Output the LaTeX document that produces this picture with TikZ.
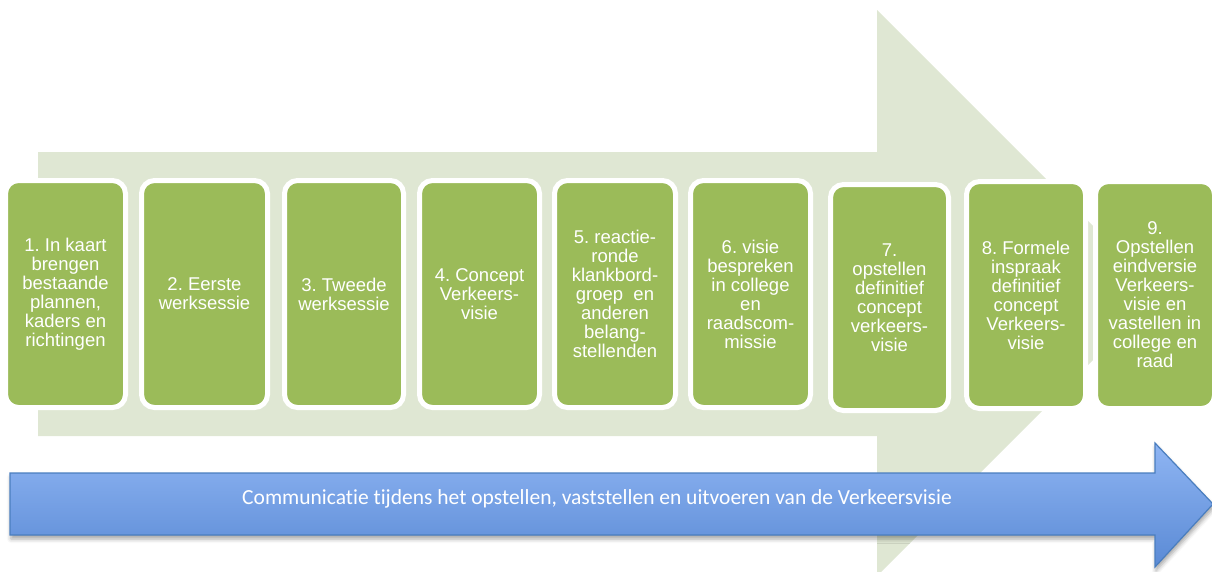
\documentclass[tikz,border=0pt]{standalone}
\usepackage{fontspec}
\setmainfont{Liberation Sans}
\newfontfamily\calib[Ligatures=NoCommon]{Carlito}
\usetikzlibrary{shadows.blur}
\definecolor{bgarrow}{HTML}{DFE7D3}
\definecolor{stepgreen}{HTML}{9BBB59}
\definecolor{bluetop}{HTML}{8FB5F3}
\definecolor{bluebot}{HTML}{5A8AD5}
\definecolor{blueedge}{HTML}{4A7EBF}
\frenchspacing
\begin{document}
\begin{tikzpicture}[x=1pt,y=-1pt,
  stepbox/.style={draw=white, line width=5pt, fill=stepgreen, rounded corners=13pt,
    inner sep=0pt, align=center, text=white,
    font=\frenchspacing\fontsize{18.5}{19}\selectfont, minimum height=227pt},
  commlabel/.style={text=white, font=\calib\fontsize{21.5}{23}\selectfont, inner sep=0pt}]
\useasboundingbox (0,0) rectangle (1212,571);

% large pale arrow behind the steps
\fill[bgarrow] (38,152) -- (877,152) -- (877,10) -- (1160,293) -- (877,576)
  -- (877,436) -- (38,436) -- cycle;

% the nine steps
\node[stepbox, minimum width=120pt] (b1) at (65.5,294)
  {1. In kaart\\brengen\\bestaande\\plannen,\\kaders en\\richtingen};
\node[stepbox, minimum width=126pt] (b2) at (204.5,294) {2. Eerste\\werksessie};
\node[stepbox, minimum width=119pt] (b3) at (344,294) {3. Tweede\\werksessie};
\node[stepbox, minimum width=120pt] (b4) at (479.5,294) {4. Concept\\Verkeers-\\visie};
\node[stepbox, minimum width=121pt] (b5) at (615,294)
  {5. reactie-\\ronde\\klankbord-\\groep~ en\\anderen\\belang-\\stellenden};
\node[stepbox, minimum width=120pt] (b6) at (750.5,294)
  {6. visie\\bespreken\\in college\\en\\raadscom-\\missie};
\node[stepbox, minimum width=118pt, minimum height=226pt] (b7) at (889.5,297.5)
  {7.\\opstellen\\definitief\\concept\\verkeers-\\visie};
\node[stepbox, minimum width=119pt] (b8) at (1026,295)
  {8. Formele\\inspraak\\definitief\\concept\\Verkeers-\\visie};
\node[stepbox, minimum width=119pt] (b9) at (1155,295)
  {9.\\Opstellen\\eindversie\\Verkeers-\\visie en\\vastellen in\\college en\\raad};

% communication arrow along the bottom
\path[draw=blueedge, line width=1.2pt, top color=bluetop, bottom color=bluebot,
  blur shadow={shadow xshift=1pt, shadow yshift=-4pt, shadow blur radius=4pt, shadow opacity=35}]
  (10,473) -- (1155,473) -- (1155,443) -- (1213,504) -- (1155,567) -- (1155,535)
  -- (10,535) -- cycle;
\node[commlabel] (comm) at (597,499)
  {Communicatie tijdens het opstellen, vaststellen en uitvoeren van de Verkeersvisie};
\end{tikzpicture}
\end{document}
